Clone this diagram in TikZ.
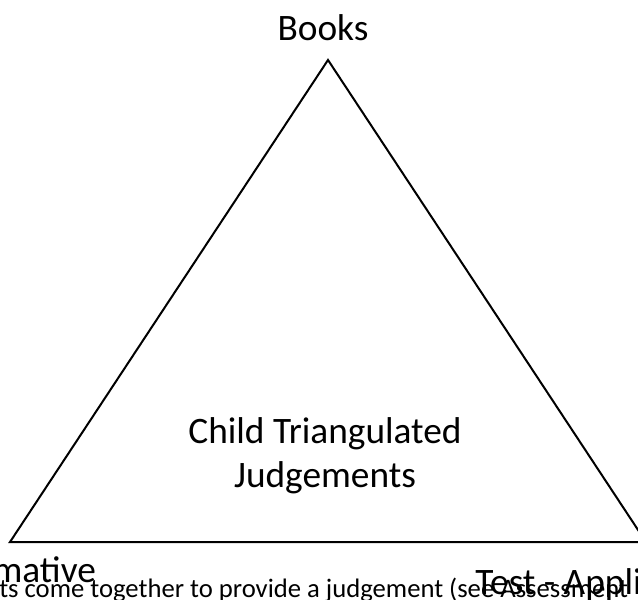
\documentclass[tikz,border=0pt]{standalone}
\usepackage{fontspec}
\setmainfont{Carlito}
\usepackage{tikz}

\begin{document}
\begin{tikzpicture}[x=0.75pt,y=0.75pt,yscale=-1,xscale=1]
\useasboundingbox (0,0) rectangle (638,599);

%Corners of the triangle
\coordinate (apex) at (328,60);
\coordinate (leftcorner) at (10,542);
\coordinate (rightcorner) at (646,542);

%Triangle
\draw [line width=1.5]  (apex) -- (leftcorner) -- (rightcorner) -- cycle ;

% Text Node
\node (books) [anchor=base][inner sep=0pt] at (323,41) {\fontsize{28}{34}\selectfont Books};
% Text Node
\node (child) [anchor=base][inner sep=0pt] at (325,443) {\fontsize{28}{34}\selectfont Child Triangulated};
% Text Node
\node (judge) [anchor=base][inner sep=0pt] at (325,487) {\fontsize{28}{34}\selectfont Judgements};
% Text Node
\node (note) [anchor=base west][inner sep=0pt] at (-1,597) {\fontsize{20}{24}\selectfont ts come together to provide a judgement (see Assessment};
% Text Node
\node (formative) [anchor=base west][inner sep=0pt] at (-57,582) {\fontsize{28}{34}\selectfont Formative};
% Text Node
\node (test) [anchor=base west][inner sep=0pt] at (475,594) {\fontsize{28}{34}\selectfont Test - Application};

\end{tikzpicture}
\end{document}
